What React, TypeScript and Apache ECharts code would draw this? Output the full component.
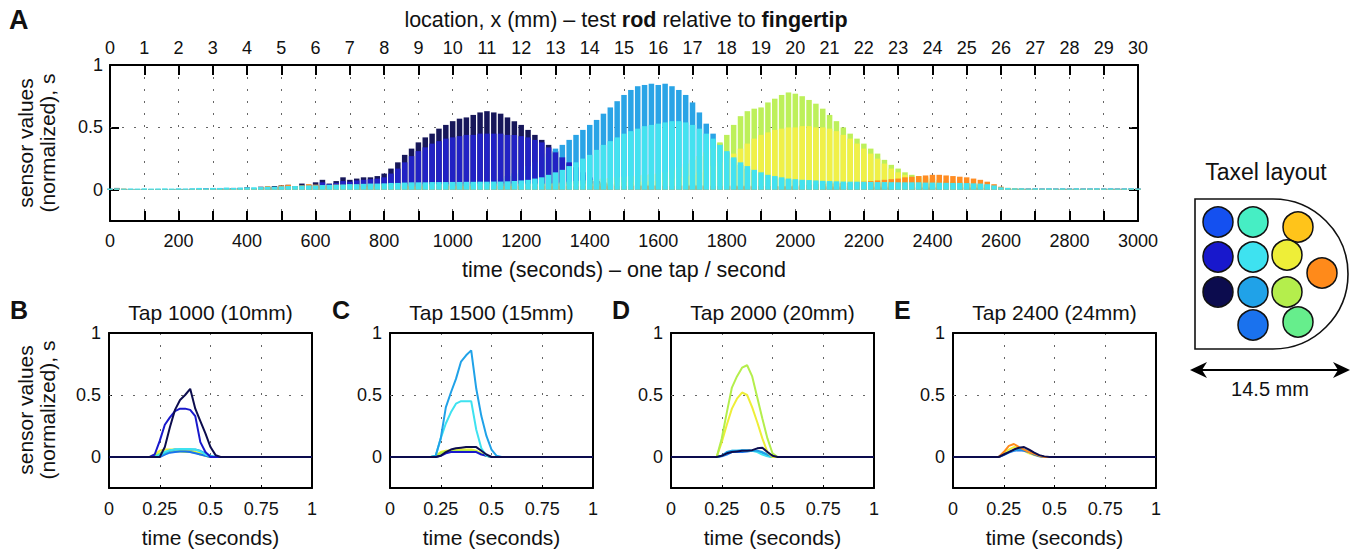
import React, { useEffect, useRef } from 'react';
import * as echarts from 'echarts';

const FONT = '"Liberation Sans", Arial, Helvetica, sans-serif';

// ---------- Panel A : envelope of each taxel, one sample every 20 taps (0..3000 s) ----------
const sampleStepA = 20;

const navyA = [
  0.008, 0.015, 0.005, 0.005, 0.004, 0.005, 0.004, 0.005, 0.004, 0.005,
  0.006, 0.006, 0.008, 0.008, 0.010, 0.010, 0.012, 0.012, 0.015, 0.015,
  0.020, 0.015, 0.025, 0.020, 0.030, 0.035, 0.040, 0.030, 0.050, 0.040,
  0.060, 0.080, 0.050, 0.070, 0.100, 0.080, 0.090, 0.100, 0.100, 0.110,
  0.130, 0.170, 0.220, 0.280, 0.330, 0.380, 0.420, 0.450, 0.490, 0.520,
  0.550, 0.570, 0.580, 0.600, 0.620, 0.630, 0.620, 0.610, 0.580, 0.550,
  0.520, 0.480, 0.440, 0.400, 0.360, 0.310, 0.260, 0.210, 0.160, 0.120,
  0.090, 0.070, 0.060, 0.050, 0.050, 0.045, 0.045, 0.040, 0.040, 0.040,
  0.040, 0.040, 0.040, 0.040, 0.040, 0.040, 0.038, 0.038, 0.036, 0.036,
  0.035, 0.035, 0.034, 0.034, 0.033, 0.033, 0.032, 0.032, 0.031, 0.031,
  0.030, 0.030, 0.030, 0.030, 0.029, 0.029, 0.028, 0.028, 0.028, 0.028,
  0.027, 0.027, 0.027, 0.026, 0.026, 0.026, 0.025, 0.025, 0.025, 0.025,
  0.024, 0.024, 0.023, 0.023, 0.022, 0.022, 0.020, 0.018, 0.016, 0.014,
  0.010, 0.008, 0.008, 0.008, 0.008, 0.008, 0.008, 0.008, 0.008, 0.008,
  0.008, 0.008, 0.008, 0.008, 0.008, 0.008, 0.008, 0.008, 0.008, 0.008,
  0.008,
];

const skyA = [
  0.005, 0.005, 0.006, 0.005, 0.006, 0.006, 0.005, 0.006, 0.006, 0.006,
  0.008, 0.008, 0.008, 0.009, 0.009, 0.010, 0.010, 0.010, 0.011, 0.011,
  0.012, 0.012, 0.015, 0.015, 0.018, 0.020, 0.020, 0.022, 0.022, 0.025,
  0.025, 0.028, 0.030, 0.030, 0.032, 0.034, 0.035, 0.036, 0.038, 0.040,
  0.040, 0.042, 0.044, 0.045, 0.046, 0.047, 0.048, 0.050, 0.050, 0.052,
  0.053, 0.055, 0.057, 0.058, 0.060, 0.065, 0.075, 0.090, 0.110, 0.130,
  0.160, 0.190, 0.220, 0.260, 0.290, 0.330, 0.360, 0.400, 0.440, 0.480,
  0.520, 0.560, 0.610, 0.660, 0.710, 0.760, 0.800, 0.830, 0.840, 0.850,
  0.840, 0.850, 0.830, 0.800, 0.760, 0.700, 0.620, 0.530, 0.450, 0.370,
  0.300, 0.250, 0.200, 0.170, 0.145, 0.125, 0.110, 0.100, 0.090, 0.080,
  0.075, 0.070, 0.068, 0.065, 0.062, 0.060, 0.058, 0.056, 0.055, 0.055,
  0.054, 0.053, 0.052, 0.052, 0.051, 0.050, 0.050, 0.050, 0.050, 0.048,
  0.048, 0.047, 0.046, 0.045, 0.045, 0.044, 0.042, 0.040, 0.035, 0.030,
  0.015, 0.010, 0.008, 0.008, 0.008, 0.008, 0.008, 0.008, 0.008, 0.008,
  0.008, 0.008, 0.008, 0.008, 0.008, 0.008, 0.008, 0.008, 0.008, 0.008,
  0.008,
];

const blueA = [
  0.004, 0.004, 0.004, 0.004, 0.004, 0.004, 0.004, 0.004, 0.004, 0.004,
  0.006, 0.006, 0.006, 0.007, 0.008, 0.008, 0.009, 0.010, 0.012, 0.012,
  0.015, 0.012, 0.018, 0.020, 0.022, 0.025, 0.030, 0.028, 0.035, 0.035,
  0.040, 0.060, 0.045, 0.055, 0.070, 0.065, 0.075, 0.080, 0.085, 0.090,
  0.100, 0.130, 0.170, 0.220, 0.270, 0.310, 0.340, 0.370, 0.390, 0.410,
  0.420, 0.430, 0.440, 0.440, 0.450, 0.450, 0.450, 0.450, 0.440, 0.440,
  0.430, 0.420, 0.400, 0.380, 0.340, 0.300, 0.260, 0.220, 0.180, 0.140,
  0.100, 0.070, 0.050, 0.040, 0.035, 0.030, 0.030, 0.030, 0.030, 0.030,
  0.030, 0.030, 0.030, 0.030, 0.029, 0.029, 0.028, 0.028, 0.027, 0.027,
  0.026, 0.026, 0.025, 0.025, 0.024, 0.024, 0.023, 0.023, 0.022, 0.022,
  0.021, 0.021, 0.020, 0.020, 0.020, 0.019, 0.019, 0.018, 0.018, 0.018,
  0.017, 0.017, 0.017, 0.016, 0.016, 0.016, 0.015, 0.015, 0.015, 0.015,
  0.014, 0.014, 0.014, 0.013, 0.013, 0.013, 0.012, 0.012, 0.011, 0.010,
  0.008, 0.008, 0.008, 0.008, 0.008, 0.008, 0.008, 0.008, 0.008, 0.008,
  0.008, 0.008, 0.008, 0.008, 0.008, 0.008, 0.008, 0.008, 0.008, 0.008,
  0.008,
];

const yellowGreenA = [
  0.003, 0.003, 0.003, 0.003, 0.003, 0.003, 0.003, 0.003, 0.003, 0.003,
  0.003, 0.003, 0.004, 0.004, 0.005, 0.005, 0.006, 0.006, 0.007, 0.008,
  0.010, 0.010, 0.012, 0.012, 0.014, 0.014, 0.015, 0.016, 0.017, 0.018,
  0.018, 0.019, 0.020, 0.020, 0.020, 0.021, 0.022, 0.022, 0.023, 0.024,
  0.024, 0.025, 0.025, 0.026, 0.026, 0.027, 0.027, 0.028, 0.028, 0.029,
  0.029, 0.030, 0.030, 0.030, 0.030, 0.030, 0.030, 0.030, 0.030, 0.030,
  0.030, 0.035, 0.040, 0.045, 0.050, 0.055, 0.060, 0.065, 0.070, 0.075,
  0.080, 0.085, 0.090, 0.095, 0.100, 0.105, 0.110, 0.115, 0.120, 0.125,
  0.130, 0.140, 0.160, 0.180, 0.210, 0.240, 0.270, 0.300, 0.330, 0.380,
  0.440, 0.520, 0.590, 0.630, 0.650, 0.660, 0.700, 0.730, 0.760, 0.780,
  0.770, 0.750, 0.720, 0.690, 0.650, 0.600, 0.550, 0.500, 0.450, 0.410,
  0.370, 0.330, 0.290, 0.240, 0.200, 0.170, 0.140, 0.120, 0.110, 0.100,
  0.090, 0.080, 0.070, 0.065, 0.060, 0.055, 0.050, 0.045, 0.040, 0.030,
  0.020, 0.015, 0.010, 0.008, 0.007, 0.006, 0.006, 0.005, 0.005, 0.005,
  0.005, 0.005, 0.005, 0.005, 0.005, 0.005, 0.005, 0.005, 0.005, 0.005,
  0.005,
];

const yellowA = [
  0.003, 0.003, 0.003, 0.003, 0.003, 0.003, 0.003, 0.003, 0.003, 0.003,
  0.004, 0.004, 0.005, 0.005, 0.006, 0.006, 0.007, 0.008, 0.009, 0.010,
  0.012, 0.015, 0.020, 0.018, 0.022, 0.030, 0.025, 0.028, 0.035, 0.030,
  0.040, 0.035, 0.038, 0.040, 0.040, 0.042, 0.040, 0.045, 0.045, 0.045,
  0.045, 0.045, 0.045, 0.045, 0.045, 0.045, 0.045, 0.045, 0.045, 0.045,
  0.050, 0.050, 0.050, 0.050, 0.050, 0.050, 0.050, 0.050, 0.050, 0.050,
  0.050, 0.050, 0.050, 0.050, 0.050, 0.050, 0.050, 0.050, 0.050, 0.050,
  0.050, 0.050, 0.055, 0.055, 0.060, 0.060, 0.060, 0.065, 0.065, 0.070,
  0.070, 0.080, 0.090, 0.100, 0.110, 0.120, 0.140, 0.160, 0.190, 0.220,
  0.250, 0.290, 0.330, 0.370, 0.410, 0.440, 0.460, 0.480, 0.490, 0.500,
  0.500, 0.510, 0.510, 0.500, 0.500, 0.490, 0.470, 0.440, 0.410, 0.370,
  0.330, 0.290, 0.250, 0.210, 0.170, 0.140, 0.120, 0.100, 0.090, 0.080,
  0.070, 0.065, 0.060, 0.055, 0.050, 0.045, 0.040, 0.035, 0.030, 0.025,
  0.015, 0.010, 0.008, 0.007, 0.006, 0.006, 0.005, 0.005, 0.005, 0.005,
  0.005, 0.005, 0.005, 0.005, 0.005, 0.005, 0.005, 0.005, 0.005, 0.005,
  0.005,
];

const orangeA = [
  0.004, 0.012, 0.010, 0.004, 0.004, 0.004, 0.004, 0.004, 0.004, 0.004,
  0.005, 0.005, 0.005, 0.006, 0.006, 0.007, 0.007, 0.008, 0.008, 0.009,
  0.010, 0.015, 0.020, 0.030, 0.020, 0.035, 0.040, 0.025, 0.030, 0.045,
  0.040, 0.030, 0.035, 0.040, 0.030, 0.035, 0.040, 0.030, 0.035, 0.040,
  0.030, 0.030, 0.030, 0.030, 0.030, 0.030, 0.030, 0.030, 0.030, 0.030,
  0.030, 0.030, 0.030, 0.030, 0.030, 0.030, 0.030, 0.030, 0.030, 0.030,
  0.030, 0.030, 0.030, 0.030, 0.030, 0.030, 0.030, 0.030, 0.030, 0.030,
  0.030, 0.030, 0.030, 0.030, 0.030, 0.030, 0.030, 0.030, 0.030, 0.030,
  0.030, 0.030, 0.030, 0.030, 0.030, 0.030, 0.030, 0.030, 0.030, 0.030,
  0.030, 0.030, 0.030, 0.030, 0.030, 0.030, 0.030, 0.030, 0.030, 0.032,
  0.035, 0.040, 0.040, 0.045, 0.045, 0.050, 0.050, 0.055, 0.055, 0.060,
  0.065, 0.070, 0.075, 0.080, 0.085, 0.090, 0.100, 0.105, 0.110, 0.115,
  0.120, 0.120, 0.115, 0.110, 0.105, 0.100, 0.090, 0.080, 0.065, 0.045,
  0.025, 0.015, 0.010, 0.008, 0.008, 0.008, 0.008, 0.008, 0.008, 0.008,
  0.008, 0.008, 0.008, 0.008, 0.008, 0.008, 0.008, 0.008, 0.008, 0.008,
  0.008,
];

const cyanA = [
  0.010, 0.012, 0.010, 0.011, 0.010, 0.012, 0.010, 0.011, 0.012, 0.010,
  0.012, 0.010, 0.012, 0.015, 0.012, 0.015, 0.015, 0.018, 0.015, 0.018,
  0.020, 0.020, 0.022, 0.025, 0.025, 0.028, 0.030, 0.030, 0.032, 0.035,
  0.035, 0.038, 0.040, 0.040, 0.042, 0.045, 0.045, 0.048, 0.050, 0.050,
  0.052, 0.055, 0.055, 0.058, 0.060, 0.060, 0.060, 0.062, 0.062, 0.062,
  0.063, 0.063, 0.064, 0.064, 0.065, 0.065, 0.066, 0.066, 0.068, 0.070,
  0.075, 0.080, 0.090, 0.100, 0.120, 0.140, 0.160, 0.190, 0.220, 0.250,
  0.280, 0.320, 0.360, 0.390, 0.420, 0.450, 0.470, 0.490, 0.510, 0.520,
  0.530, 0.540, 0.550, 0.550, 0.540, 0.520, 0.490, 0.450, 0.410, 0.360,
  0.310, 0.260, 0.220, 0.190, 0.160, 0.140, 0.120, 0.110, 0.100, 0.090,
  0.085, 0.080, 0.078, 0.075, 0.072, 0.070, 0.068, 0.066, 0.065, 0.065,
  0.064, 0.063, 0.062, 0.062, 0.061, 0.060, 0.060, 0.060, 0.060, 0.058,
  0.058, 0.057, 0.056, 0.055, 0.055, 0.054, 0.052, 0.050, 0.045, 0.035,
  0.020, 0.015, 0.012, 0.012, 0.010, 0.012, 0.010, 0.012, 0.010, 0.012,
  0.010, 0.012, 0.010, 0.011, 0.012, 0.010, 0.012, 0.010, 0.011, 0.012,
  0.010,
];

const timeTickLabels = [0, 200, 400, 600, 800, 1000, 1200, 1400, 1600, 1800, 2000, 2200, 2400, 2600, 2800, 3000];
const yTickLabels = [0, 0.5, 1];

// ---------- Panels B-E : one tap, sensor value vs time within the tap ----------
const tapTime = [0, 0.2, 0.225, 0.25, 0.275, 0.3, 0.325, 0.35, 0.375, 0.4, 0.425, 0.45, 0.475, 0.5, 0.525, 0.55, 0.575, 1];
const tapTickLabels = [0, 0.25, 0.5, 0.75, 1];

const yellowB = [0, 0, 0.02, 0.05, 0.06, 0.06, 0.06, 0.055, 0.05, 0.05, 0.04, 0.03, 0.01, 0, 0, 0, 0, 0];
const yellowGreenB = [0, 0, 0.01, 0.03, 0.04, 0.045, 0.045, 0.045, 0.04, 0.04, 0.035, 0.02, 0.01, 0, 0, 0, 0, 0];
const azureB = [0, 0, 0, 0, 0.02, 0.035, 0.04, 0.045, 0.045, 0.04, 0.03, 0.02, 0.01, 0, 0, 0, 0, 0];
const skyB = [0, 0, 0, 0.01, 0.03, 0.05, 0.06, 0.06, 0.06, 0.06, 0.06, 0.05, 0.03, 0.01, 0, 0, 0, 0];
const cyanB = [0, 0, 0, 0.02, 0.04, 0.055, 0.06, 0.065, 0.065, 0.065, 0.06, 0.045, 0.02, 0.005, 0, 0, 0, 0];
const blueB = [0, 0, 0.02, 0.13, 0.26, 0.32, 0.37, 0.39, 0.39, 0.38, 0.33, 0.12, 0.04, 0, 0, 0, 0, 0];
const navyB = [0, 0, 0, 0, 0.08, 0.24, 0.38, 0.46, 0.5, 0.55, 0.39, 0.29, 0.19, 0.08, 0.015, 0, 0, 0];

const yellowC = [0, 0, 0.01, 0.04, 0.05, 0.055, 0.06, 0.06, 0.06, 0.06, 0.05, 0.03, 0.01, 0, 0, 0, 0, 0];
const yellowGreenC = [0, 0, 0.005, 0.03, 0.045, 0.05, 0.05, 0.05, 0.05, 0.05, 0.045, 0.025, 0.01, 0, 0, 0, 0, 0];
const blueC = [0, 0, 0, 0.01, 0.03, 0.04, 0.04, 0.04, 0.04, 0.04, 0.04, 0.02, 0.01, 0, 0, 0, 0, 0];
const cyanC = [0, 0, 0.01, 0.15, 0.27, 0.36, 0.43, 0.45, 0.45, 0.45, 0.22, 0.07, 0.01, 0, 0, 0, 0, 0];
const skyC = [0, 0, 0.01, 0.15, 0.4, 0.52, 0.63, 0.77, 0.82, 0.86, 0.55, 0.33, 0.17, 0.06, 0.01, 0, 0, 0];
const navyC = [0, 0, 0, 0.01, 0.04, 0.06, 0.07, 0.075, 0.08, 0.08, 0.08, 0.05, 0.02, 0, 0, 0, 0, 0];

const azureD = [0, 0, 0, 0.005, 0.02, 0.04, 0.04, 0.04, 0.045, 0.05, 0.05, 0.03, 0.01, 0, 0, 0, 0, 0];
const cyanD = [0, 0, 0, 0.01, 0.03, 0.05, 0.05, 0.05, 0.05, 0.05, 0.04, 0.02, 0.005, 0, 0, 0, 0, 0];
const skyD = [0, 0, 0, 0.01, 0.04, 0.05, 0.05, 0.055, 0.055, 0.05, 0.05, 0.04, 0.02, 0.005, 0, 0, 0, 0];
const yellowD = [0, 0, 0, 0.12, 0.26, 0.39, 0.47, 0.52, 0.5, 0.4, 0.28, 0.15, 0.04, 0, 0, 0, 0, 0];
const yellowGreenD = [0, 0, 0, 0.15, 0.36, 0.56, 0.65, 0.72, 0.74, 0.65, 0.48, 0.31, 0.15, 0.03, 0, 0, 0, 0];
const navyD = [0, 0, 0, 0.01, 0.03, 0.04, 0.045, 0.05, 0.05, 0.055, 0.07, 0.075, 0.04, 0.01, 0, 0, 0, 0];

const yellowE = [0, 0, 0, 0.03, 0.06, 0.08, 0.07, 0.05, 0.03, 0.015, 0.005, 0, 0, 0, 0, 0, 0, 0];
const azureE = [0, 0, 0, 0.015, 0.035, 0.05, 0.055, 0.05, 0.04, 0.02, 0.005, 0, 0, 0, 0, 0, 0, 0];
const skyE = [0, 0, 0, 0.02, 0.04, 0.055, 0.06, 0.06, 0.045, 0.025, 0.01, 0, 0, 0, 0, 0, 0, 0];
const orangeE = [0, 0, 0, 0.04, 0.09, 0.105, 0.08, 0.06, 0.04, 0.025, 0.01, 0, 0, 0, 0, 0, 0, 0];
const navyE = [0, 0, 0, 0.02, 0.04, 0.06, 0.075, 0.08, 0.06, 0.035, 0.015, 0.005, 0, 0, 0, 0, 0, 0];

const panelTitles = ['Tap 1000 (10mm)', 'Tap 1500 (15mm)', 'Tap 2000 (20mm)', 'Tap 2400 (24mm)'];
const panelLetters = ['B', 'C', 'D', 'E'];

// ---------- colours (jet colormap) ----------
const COL = {
  navy: '#0c0c4e',
  blue: '#1818cc',
  blue2: '#1450f0',
  azure: '#1a72ee',
  sky: '#20a2e8',
  cyan: '#3ee2f0',
  aqua: '#46eec4',
  lgreen: '#66ee8c',
  ygreen: '#b4ee4c',
  yellow: '#eeee38',
  gold: '#ffc41a',
  orange: '#ff8a1a',
};

// taxel layout circles (page px), colour key
const taxelCx = [1218, 1253, 1298, 1218, 1253, 1287, 1322, 1218, 1253, 1287, 1253, 1298];
const taxelCy = [222, 222, 227, 257, 257, 255, 273, 292, 292, 292, 325, 322];
const taxelColor = ['blue2', 'aqua', 'gold', 'blue', 'cyan', 'yellow', 'orange', 'navy', 'sky', 'ygreen', 'azure', 'lgreen'];

export default function App() {
  const ref = useRef<HTMLDivElement>(null);

  useEffect(() => {
    if (!ref.current) return;
    const chart = echarts.init(ref.current, undefined, { renderer: 'svg' });

    const frame = { show: true, onZero: false, lineStyle: { color: '#000', width: 2 } };
    const dotted = { type: [2, 10], color: '#666', width: 1 };
    const tickFont = { fontSize: 18, color: '#111', fontFamily: FONT };
    const plain = (v: number) => String(v);

    const gridA = { left: 110, top: 65, width: 1028, height: 156 };
    const panelLeft = [109, 390, 671, 953];
    const panelTop = 333;
    const panelW = 203;
    const panelH = 155;

    const grids: any[] = [gridA];
    panelLeft.forEach((l) => grids.push({ left: l, top: panelTop, width: panelW, height: panelH }));

    const xAxes: any[] = [
      {
        type: 'value', gridIndex: 0, position: 'bottom', min: 0, max: 3000, interval: 100,
        axisLine: frame,
        axisTick: { show: true, inside: true, length: 10, lineStyle: { color: '#000', width: 2 } },
        axisLabel: { ...tickFont, margin: 11, customValues: timeTickLabels, formatter: plain },
        splitLine: { show: false },
      },
      {
        type: 'value', gridIndex: 0, position: 'top', min: 0, max: 30, interval: 1,
        axisLine: frame,
        axisTick: { show: true, inside: true, length: 10, lineStyle: { color: '#000', width: 2 } },
        axisLabel: { ...tickFont, margin: 8, formatter: plain },
        splitLine: { show: true, lineStyle: dotted },
      },
    ];
    const yAxes: any[] = [
      {
        type: 'value', gridIndex: 0, position: 'left', min: -0.25, max: 1,
        axisLine: frame,
        axisTick: { show: true, inside: true, length: 9, customValues: yTickLabels, lineStyle: { color: '#000', width: 2 } },
        axisLabel: { ...tickFont, margin: 7, customValues: yTickLabels, formatter: plain },
        splitLine: { show: false },
      },
      {
        type: 'value', gridIndex: 0, position: 'right', min: -0.25, max: 1,
        axisLine: frame,
        axisTick: { show: true, inside: true, length: 9, customValues: yTickLabels, lineStyle: { color: '#000', width: 2 } },
        axisLabel: { show: false },
        splitLine: { show: false },
      },
    ];

    panelLeft.forEach((_, i) => {
      const g = i + 1;
      xAxes.push({
        type: 'value', gridIndex: g, position: 'bottom', min: 0, max: 1, interval: 0.25,
        axisLine: frame,
        axisTick: { show: true, inside: true, length: 3, lineStyle: { color: '#000', width: 1 } },
        axisLabel: { ...tickFont, margin: 12, customValues: tapTickLabels, formatter: plain },
        splitLine: { show: true, lineStyle: dotted },
      });
      xAxes.push({
        type: 'value', gridIndex: g, position: 'top', min: 0, max: 1,
        axisLine: frame, axisTick: { show: false }, axisLabel: { show: false }, splitLine: { show: false },
      });
      yAxes.push({
        type: 'value', gridIndex: g, position: 'left', min: -0.25, max: 1,
        axisLine: frame,
        axisTick: { show: true, inside: true, length: 3, customValues: yTickLabels, lineStyle: { color: '#000', width: 1 } },
        axisLabel: { ...tickFont, margin: 8, customValues: yTickLabels, formatter: plain },
        splitLine: { show: false },
      });
      yAxes.push({
        type: 'value', gridIndex: g, position: 'right', min: -0.25, max: 1,
        axisLine: frame, axisTick: { show: false }, axisLabel: { show: false }, splitLine: { show: false },
      });
    });

    const gridMark = {
      silent: true, symbol: ['none', 'none'], label: { show: false }, z: 1,
      lineStyle: dotted, data: [{ yAxis: 0.5 }],
    };

    // Panel A bars (drawing order: later series cover earlier ones)
    const barOrder: [string, number[], string][] = [
      ['navy', navyA, '#17175a'],
      ['sky', skyA, '#2aa4e6'],
      ['blue', blueA, '#2222c4'],
      ['yellow-green', yellowGreenA, '#bdf05a'],
      ['yellow', yellowA, '#f0f048'],
      ['orange', orangeA, '#ff8c22'],
      ['cyan', cyanA, '#44e2f0'],
    ];
    const series: any[] = barOrder.map(([name, vals, color], k) => ({
      type: 'bar', name, xAxisIndex: 0, yAxisIndex: 0, silent: true,
      data: vals.map((v, i) => [i * sampleStepA, v]),
      barWidth: 5.5, barGap: '-100%',
      itemStyle: { color },
      ...(k === 0 ? { markLine: gridMark } : {}),
    }));

    const panelLines: [string, number[]][][] = [
      [['yellow', yellowB], ['ygreen', yellowGreenB], ['azure', azureB], ['sky', skyB], ['cyan', cyanB], ['blue', blueB], ['navy', navyB]],
      [['yellow', yellowC], ['ygreen', yellowGreenC], ['blue', blueC], ['cyan', cyanC], ['sky', skyC], ['navy', navyC]],
      [['azure', azureD], ['cyan', cyanD], ['sky', skyD], ['yellow', yellowD], ['ygreen', yellowGreenD], ['navy', navyD]],
      [['yellow', yellowE], ['azure', azureE], ['sky', skyE], ['orange', orangeE], ['navy', navyE]],
    ];
    panelLines.forEach((lines, p) => {
      lines.forEach(([key, vals], k) => {
        series.push({
          type: 'line', name: `${panelLetters[p]}-${key}`,
          xAxisIndex: 2 + 2 * p, yAxisIndex: 2 + 2 * p,
          data: vals.map((v, i) => [tapTime[i], v]),
          symbol: 'none', showSymbol: false, silent: true,
          lineStyle: { width: 2, color: (COL as any)[key] },
          itemStyle: { color: (COL as any)[key] },
          ...(k === 0 ? { markLine: gridMark } : {}),
        });
      });
    });

    const txt = (text: string, x: number, y: number, size: number, extra: any = {}) => ({
      type: 'text', x, y, silent: true,
      style: {
        text, x: 0, y: 0, fontSize: size, fontFamily: FONT, fill: '#111',
        align: 'center', verticalAlign: 'middle', textAlign: 'center', textVerticalAlign: 'middle',
        ...extra,
      },
    });

    const graphic: any[] = [];
    graphic.push(txt('A', 9, 20, 27, { fontWeight: 'bold', align: 'left', textAlign: 'left' }));
    graphic.push({
      type: 'text', x: 626, y: 20, silent: true,
      style: {
        text: '{n|location, x (mm) – test }{b|rod}{n| relative to }{b|fingertip}',
        x: 0, y: 0, align: 'center', verticalAlign: 'middle', textAlign: 'center', textVerticalAlign: 'middle',
        fontSize: 21.5, fontFamily: FONT, fill: '#111',
        rich: {
          n: { fontSize: 21.5, fontFamily: FONT, fill: '#111', color: '#111' },
          b: { fontSize: 21.5, fontFamily: FONT, fontWeight: 'bold', fill: '#111', color: '#111' },
        },
      },
    });
    graphic.push(txt('time (seconds) – one tap / second', 624, 270, 21.5));
    graphic.push(txt('sensor values\n(normalized), s', 36, 143, 21, { lineHeight: 22 }));
    graphic[graphic.length - 1].rotation = Math.PI / 2;
    graphic.push(txt('sensor values\n(normalized), s', 36, 410, 21, { lineHeight: 22 }));
    graphic[graphic.length - 1].rotation = Math.PI / 2;

    const letterX = [10, 332, 612, 894];
    panelLeft.forEach((l, i) => {
      graphic.push(txt(panelTitles[i], l + panelW / 2, 312, 21));
      graphic.push(txt('time (seconds)', l + panelW / 2, 537, 21));
      graphic.push(txt(panelLetters[i], letterX[i], 310, 25, { fontWeight: 'bold', align: 'left', textAlign: 'left' }));
    });

    // taxel layout
    graphic.push(txt('Taxel layout', 1266, 172, 23));
    graphic.push({
      type: 'polyline', silent: true,
      shape: { points: [[1273, 199], [1195, 199], [1195, 349], [1273, 349]] },
      style: { stroke: '#111', lineWidth: 1.6, fill: 'none' },
    });
    graphic.push({
      type: 'arc', silent: true,
      shape: { cx: 1273, cy: 274, r: 75, startAngle: -Math.PI / 2, endAngle: Math.PI / 2, clockwise: true },
      style: { stroke: '#111', lineWidth: 1.6, fill: 'none' },
    });
    taxelCx.forEach((cx, i) => {
      graphic.push({
        type: 'circle', silent: true,
        shape: { cx, cy: taxelCy[i], r: 15 },
        style: { fill: (COL as any)[taxelColor[i]], stroke: '#111', lineWidth: 1.5 },
      });
    });
    graphic.push({
      type: 'line', silent: true,
      shape: { x1: 1200, y1: 370, x2: 1340, y2: 370 },
      style: { stroke: '#000', lineWidth: 2.2 },
    });
    graphic.push({
      type: 'polygon', silent: true,
      shape: { points: [[1190, 370], [1207, 362], [1202, 370], [1207, 378]] },
      style: { fill: '#000' },
    });
    graphic.push({
      type: 'polygon', silent: true,
      shape: { points: [[1350, 370], [1333, 362], [1338, 370], [1333, 378]] },
      style: { fill: '#000' },
    });
    graphic.push(txt('14.5 mm', 1270, 389, 20));

    chart.setOption({
      animation: false,
      backgroundColor: '#ffffff',
      textStyle: { fontFamily: FONT },
      grid: grids,
      xAxis: xAxes,
      yAxis: yAxes,
      series,
      graphic,
    });

    return () => chart.dispose();
  }, []);

  return (
    <div
      ref={ref}
      style={{ position: 'fixed', left: 0, top: 0, width: 1369, height: 552, background: '#fff' }}
    />
  );
}
